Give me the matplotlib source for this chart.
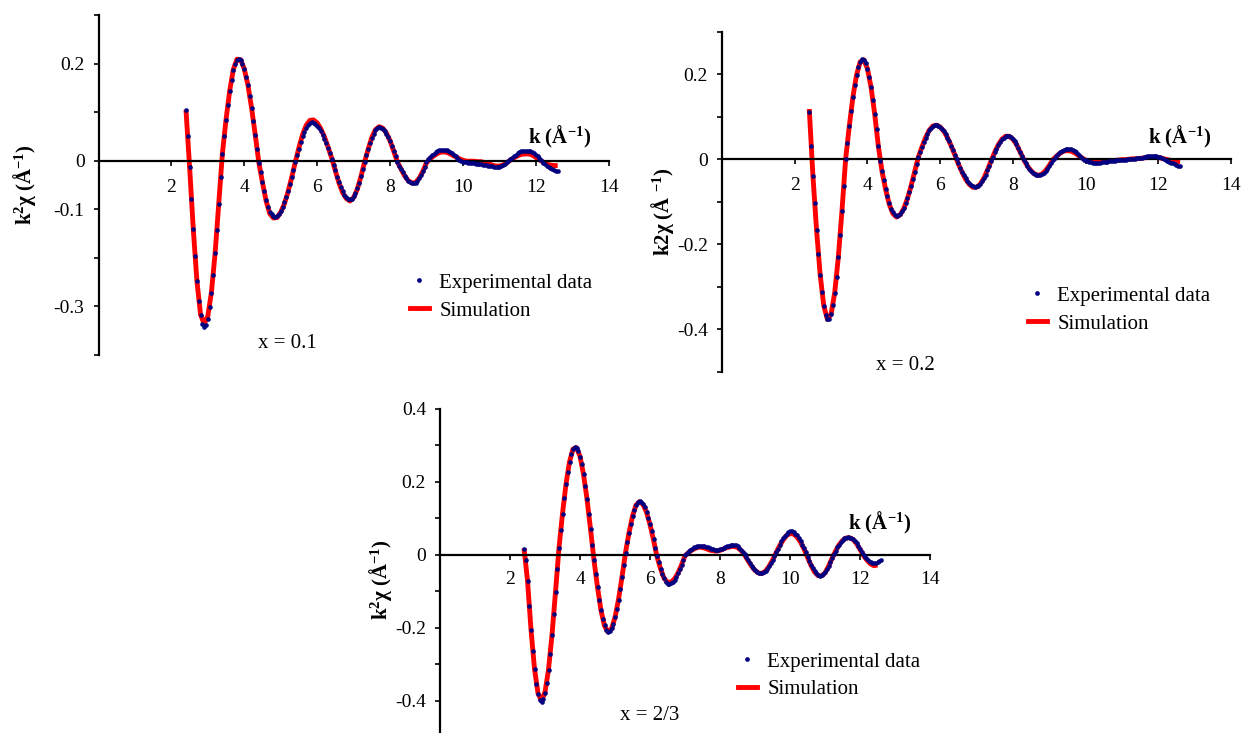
import numpy as np
import matplotlib
matplotlib.use('Agg')
import matplotlib.pyplot as plt
from matplotlib.lines import Line2D

plt.rcParams['font.family'] = ['Liberation Serif', 'DejaVu Serif']
plt.rcParams['mathtext.fontset'] = 'custom'
plt.rcParams['mathtext.rm'] = 'Liberation Serif'
plt.rcParams['mathtext.bf'] = 'Liberation Serif:bold'
plt.rcParams['mathtext.it'] = 'Liberation Serif:italic'
plt.rcParams['axes.unicode_minus'] = False

# k grids (A^-1): measured points every 0.05, simulation every 0.1
k_exp = np.round(np.arange(2.4, 12.601, 0.05), 2)
k_sim = np.round(np.arange(2.4, 12.61, 0.1), 1)

# x = 0.1
exp_01 = [0.105, 0.050, -0.013, -0.078, -0.140, -0.197, -0.247, -0.288, -0.318, -0.337,
          -0.343, -0.338, -0.325, -0.302, -0.272, -0.235, -0.191, -0.142, -0.089, -0.034,
          0.014, 0.050, 0.084, 0.115, 0.143, 0.167, 0.187, 0.200, 0.208, 0.210,
          0.207, 0.200, 0.188, 0.173, 0.155, 0.133, 0.108, 0.082, 0.053, 0.024,
          -0.004, -0.024, -0.044, -0.062, -0.081, -0.095, -0.106, -0.110, -0.114, -0.115,
          -0.113, -0.109, -0.103, -0.095, -0.086, -0.074, -0.062, -0.048, -0.034, -0.019,
          -0.003, 0.011, 0.025, 0.038, 0.050, 0.060, 0.068, 0.074, 0.078, 0.079,
          0.078, 0.076, 0.072, 0.067, 0.061, 0.053, 0.045, 0.036, 0.026, 0.015,
          0.004, -0.008, -0.020, -0.033, -0.044, -0.054, -0.063, -0.070, -0.075, -0.078,
          -0.079, -0.078, -0.073, -0.066, -0.057, -0.046, -0.032, -0.018, -0.003, 0.011,
          0.024, 0.036, 0.047, 0.056, 0.063, 0.067, 0.069, 0.068, 0.066, 0.062,
          0.056, 0.049, 0.040, 0.030, 0.020, 0.009, -0.002, -0.010, -0.017, -0.024,
          -0.031, -0.036, -0.041, -0.044, -0.046, -0.046, -0.045, -0.041, -0.036, -0.029,
          -0.021, -0.012, -0.003, 0.003, 0.007, 0.011, 0.014, 0.017, 0.020, 0.022,
          0.023, 0.023, 0.023, 0.022, 0.020, 0.018, 0.015, 0.012, 0.009, 0.005,
          0.002, -0.001, -0.002, -0.003, -0.003, -0.004, -0.004, -0.005, -0.005, -0.006,
          -0.006, -0.007, -0.007, -0.008, -0.008, -0.009, -0.010, -0.011, -0.011, -0.012,
          -0.012, -0.012, -0.012, -0.011, -0.009, -0.006, -0.003, 0.000, 0.003, 0.006,
          0.010, 0.012, 0.015, 0.017, 0.019, 0.020, 0.021, 0.021, 0.021, 0.020,
          0.018, 0.015, 0.012, 0.009, 0.005, 0.002, -0.004, -0.007, -0.010, -0.013,
          -0.016, -0.018, -0.020, -0.021, -0.022]
sim_01 = [0.105, -0.013, -0.140, -0.247, -0.317, -0.336, -0.320, -0.270, -0.190, -0.088,
          0.015, 0.085, 0.144, 0.188, 0.209, 0.208, 0.189, 0.156, 0.109, 0.054,
          -0.004, -0.045, -0.083, -0.109, -0.118, -0.117, -0.106, -0.089, -0.064, -0.035,
          -0.003, 0.027, 0.054, 0.073, 0.083, 0.084, 0.078, 0.066, 0.049, 0.028,
          0.005, -0.021, -0.046, -0.066, -0.078, -0.083, -0.076, -0.059, -0.033, -0.003,
          0.024, 0.048, 0.064, 0.070, 0.067, 0.057, 0.041, 0.020, -0.002, -0.017,
          -0.031, -0.041, -0.046, -0.045, -0.036, -0.022, -0.004, 0.004, 0.010, 0.015,
          0.018, 0.018, 0.016, 0.012, 0.008, 0.004, 0.001, -0.001, -0.001, -0.001,
          -0.002, -0.002, -0.004, -0.006, -0.009, -0.011, -0.011, -0.009, -0.004, 0.001,
          0.006, 0.010, 0.013, 0.014, 0.014, 0.012, 0.007, 0.002, -0.003, -0.007,
          -0.009, -0.010, -0.010]

# x = 0.2
exp_02 = [0.112, 0.030, -0.039, -0.104, -0.166, -0.222, -0.272, -0.313, -0.345, -0.367,
          -0.377, -0.376, -0.365, -0.344, -0.314, -0.276, -0.230, -0.178, -0.121, -0.062,
          0.000, 0.039, 0.077, 0.113, 0.146, 0.174, 0.198, 0.216, 0.229, 0.235,
          0.234, 0.227, 0.213, 0.194, 0.169, 0.139, 0.106, 0.070, 0.031, -0.005,
          -0.027, -0.049, -0.069, -0.087, -0.103, -0.116, -0.125, -0.131, -0.133, -0.132,
          -0.128, -0.122, -0.114, -0.104, -0.092, -0.078, -0.062, -0.046, -0.029, -0.011,
          0.005, 0.017, 0.029, 0.041, 0.051, 0.060, 0.068, 0.073, 0.077, 0.080,
          0.080, 0.078, 0.076, 0.071, 0.066, 0.059, 0.051, 0.042, 0.032, 0.022,
          0.011, 0.000, -0.010, -0.020, -0.029, -0.038, -0.045, -0.052, -0.057, -0.061,
          -0.064, -0.065, -0.064, -0.062, -0.058, -0.052, -0.044, -0.036, -0.026, -0.015,
          -0.004, 0.006, 0.016, 0.025, 0.034, 0.041, 0.047, 0.051, 0.054, 0.055,
          0.054, 0.052, 0.047, 0.042, 0.035, 0.026, 0.017, 0.008, -0.001, -0.009,
          -0.016, -0.022, -0.027, -0.032, -0.035, -0.037, -0.038, -0.037, -0.035, -0.032,
          -0.027, -0.022, -0.016, -0.009, -0.001, 0.004, 0.008, 0.012, 0.016, 0.019,
          0.022, 0.023, 0.024, 0.024, 0.023, 0.021, 0.019, 0.016, 0.012, 0.008,
          0.004, -0.001, -0.003, -0.005, -0.006, -0.007, -0.008, -0.008, -0.008, -0.008,
          -0.008, -0.007, -0.007, -0.006, -0.006, -0.005, -0.005, -0.004, -0.004, -0.003,
          -0.003, -0.002, -0.002, -0.001, -0.001, 0.000, 0.000, 0.000, 0.001, 0.001,
          0.002, 0.002, 0.003, 0.004, 0.005, 0.006, 0.007, 0.007, 0.008, 0.008,
          0.008, 0.007, 0.006, 0.005, 0.003, 0.001, -0.001, -0.004, -0.006, -0.008,
          -0.010, -0.011, -0.013, -0.015, -0.016]
sim_02 = [0.118, -0.038, -0.166, -0.272, -0.345, -0.377, -0.365, -0.314, -0.230, -0.121,
          0.000, 0.077, 0.146, 0.198, 0.229, 0.234, 0.213, 0.169, 0.106, 0.031,
          -0.028, -0.071, -0.106, -0.128, -0.136, -0.131, -0.116, -0.093, -0.063, -0.029,
          0.005, 0.029, 0.051, 0.068, 0.078, 0.080, 0.076, 0.066, 0.051, 0.032,
          0.011, -0.011, -0.030, -0.047, -0.059, -0.066, -0.066, -0.059, -0.045, -0.026,
          -0.004, 0.016, 0.034, 0.047, 0.054, 0.054, 0.047, 0.035, 0.017, -0.001,
          -0.016, -0.027, -0.035, -0.038, -0.035, -0.027, -0.015, -0.001, 0.007, 0.014,
          0.019, 0.020, 0.019, 0.015, 0.009, 0.003, -0.002, -0.004, -0.005, -0.006,
          -0.006, -0.005, -0.004, -0.003, -0.003, -0.002, -0.001, -0.001, 0.000, 0.001,
          0.001, 0.002, 0.003, 0.004, 0.005, 0.005, 0.004, 0.002, 0.000, -0.002,
          -0.004, -0.005, -0.006]

# x = 2/3
exp_23 = [0.016, -0.015, -0.071, -0.141, -0.206, -0.264, -0.314, -0.354, -0.382, -0.399,
          -0.403, -0.396, -0.378, -0.351, -0.315, -0.271, -0.220, -0.163, -0.102, -0.039,
          0.019, 0.067, 0.113, 0.156, 0.194, 0.228, 0.255, 0.276, 0.289, 0.295,
          0.293, 0.284, 0.269, 0.248, 0.221, 0.189, 0.153, 0.113, 0.071, 0.027,
          -0.015, -0.053, -0.089, -0.123, -0.152, -0.176, -0.194, -0.206, -0.211, -0.209,
          -0.202, -0.189, -0.172, -0.149, -0.123, -0.093, -0.061, -0.028, 0.006, 0.034,
          0.060, 0.085, 0.106, 0.123, 0.136, 0.144, 0.147, 0.145, 0.139, 0.130,
          0.118, 0.102, 0.084, 0.064, 0.042, 0.019, -0.004, -0.021, -0.038, -0.053,
          -0.065, -0.074, -0.079, -0.080, -0.078, -0.074, -0.068, -0.060, -0.050, -0.039,
          -0.027, -0.014, 0.000, 0.005, 0.009, 0.013, 0.017, 0.020, 0.022, 0.024,
          0.025, 0.025, 0.024, 0.023, 0.022, 0.020, 0.018, 0.016, 0.015, 0.014,
          0.014, 0.014, 0.015, 0.017, 0.019, 0.021, 0.023, 0.025, 0.026, 0.027,
          0.027, 0.026, 0.023, 0.019, 0.014, 0.008, 0.001, -0.007, -0.015, -0.023,
          -0.030, -0.037, -0.042, -0.046, -0.049, -0.050, -0.050, -0.048, -0.044, -0.038,
          -0.031, -0.023, -0.014, -0.004, 0.007, 0.017, 0.027, 0.037, 0.045, 0.052,
          0.058, 0.062, 0.064, 0.064, 0.062, 0.058, 0.053, 0.046, 0.038, 0.028,
          0.018, 0.007, -0.005, -0.016, -0.027, -0.037, -0.045, -0.051, -0.055, -0.057,
          -0.056, -0.053, -0.048, -0.040, -0.031, -0.021, -0.009, 0.002, 0.011, 0.020,
          0.028, 0.035, 0.040, 0.045, 0.047, 0.048, 0.047, 0.045, 0.042, 0.037,
          0.031, 0.024, 0.016, 0.008, 0.000, -0.006, -0.011, -0.016, -0.020, -0.022,
          -0.023, -0.022, -0.020, -0.018, -0.015]
sim_23 = [0.018, -0.070, -0.205, -0.313, -0.380, -0.401, -0.377, -0.315, -0.220, -0.102,
          0.019, 0.113, 0.194, 0.255, 0.290, 0.294, 0.270, 0.221, 0.153, 0.071,
          -0.015, -0.089, -0.153, -0.195, -0.212, -0.203, -0.172, -0.123, -0.061, 0.006,
          0.060, 0.106, 0.136, 0.146, 0.138, 0.117, 0.083, 0.041, -0.005, -0.038,
          -0.064, -0.076, -0.075, -0.066, -0.050, -0.028, -0.003, 0.006, 0.013, 0.018,
          0.021, 0.020, 0.017, 0.013, 0.011, 0.010, 0.012, 0.016, 0.020, 0.022,
          0.023, 0.020, 0.012, 0.000, -0.016, -0.031, -0.043, -0.050, -0.051, -0.045,
          -0.032, -0.015, 0.005, 0.024, 0.040, 0.053, 0.058, 0.057, 0.049, 0.035,
          0.016, -0.007, -0.029, -0.047, -0.057, -0.058, -0.050, -0.032, -0.010, 0.010,
          0.027, 0.039, 0.046, 0.047, 0.042, 0.031, 0.015, -0.002, -0.015, -0.025,
          -0.030, -0.028]

x_ticks = [2, 4, 6, 8, 10, 12, 14]

W, H = 1241, 733
fig = plt.figure(figsize=(W / 100, H / 100), dpi=100)


def px_axes(left, top, right, bottom):
    # axes box given in pixel coords of the picture (origin top-left)
    return fig.add_axes([left / W, 1 - bottom / H, (right - left) / W, (bottom - top) / H])


def draw_panel(ax, exp, sim, ylim, yticks, ylabels, xpad):
    ax.plot(k_sim[:len(sim)], sim, color='#ff0000', lw=3.5, solid_capstyle='butt', zorder=2)
    ax.plot(k_exp[:len(exp)], exp, ls='none', marker='o', ms=3.3, color='#000080',
            markeredgewidth=0, zorder=3)
    ax.set_xlim(0, 14)
    ax.set_ylim(*ylim)
    ax.set_xticks(x_ticks)
    ax.set_xticklabels([str(t) for t in x_ticks])
    ax.set_yticks(yticks)
    ax.set_yticklabels(ylabels)
    for s in ['top', 'right']:
        ax.spines[s].set_visible(False)
    ax.spines['bottom'].set_position(('data', 0))
    ax.spines['left'].set_linewidth(1.6)
    ax.spines['bottom'].set_linewidth(1.6)
    ax.tick_params(axis='both', direction='out', length=3.5, width=1.2,
                   labelsize=14, color='black')
    ax.tick_params(axis='y', pad=6.5)
    ax.tick_params(axis='x', pad=xpad)
    ax.patch.set_alpha(0)


def add_legend(x, y):
    handles = [Line2D([], [], ls='none', marker='o', ms=3.4, color='#000080', markeredgewidth=0),
               Line2D([], [], color='#ff0000', lw=3.5)]
    fig.legend(handles, ['Experimental data', 'Simulation'], loc='upper left',
               bbox_to_anchor=(x / W, 1 - y / H), frameon=False, fontsize=15,
               handlelength=0.9, handletextpad=0.5, labelspacing=0.4,
               borderpad=0, borderaxespad=0, numpoints=1)


# panel x = 0.1
ax1 = px_axes(98.5, 15, 608.7, 355)
draw_panel(ax1, exp_01, sim_01, (-0.4, 0.3),
           [-0.4, -0.3, -0.2, -0.1, 0, 0.1, 0.2, 0.3],
           ['', '-0.3', '', '-0.1', '0', '', '0.2', ''], 9.5)

# panel x = 0.2
ax2 = px_axes(722, 31.7, 1231, 371.7)
draw_panel(ax2, exp_02, sim_02, (-0.5, 0.3),
           [-0.5, -0.4, -0.3, -0.2, -0.1, 0, 0.1, 0.2, 0.3],
           ['', '-0.4', '', '-0.2', '', '0', '', '0.2', ''], 9.5)

# panel x = 2/3
ax3 = px_axes(440, 409, 930, 737)
draw_panel(ax3, exp_23, sim_23, (-0.5, 0.4),
           [-0.5, -0.4, -0.3, -0.2, -0.1, 0, 0.1, 0.2, 0.3, 0.4],
           ['', '-0.4', '', '-0.2', '', '0', '', '0.2', '', '0.4'], 8)

# axis titles
ylab_sq = r'k$^{\mathbf{2}}$χ (Å$^{\mathbf{-1}}$)'
ylab_2 = r'k2χ (Å $^{\mathbf{-1}}$)'
xlab = r'k (Å$^{\mathbf{-1}}$)'
fig.text(25 / W, 1 - 185 / H, ylab_sq, rotation=90, ha='center', va='center',
         fontsize=15, fontweight='bold')
fig.text(663 / W, 1 - 212 / H, ylab_2, rotation=90, ha='center', va='center',
         fontsize=15, fontweight='bold')
fig.text(380 / W, 1 - 580 / H, ylab_sq, rotation=90, ha='center', va='center',
         fontsize=15, fontweight='bold')
for xc, yc in [(560, 137), (1180, 137), (880, 523)]:
    fig.text(xc / W, 1 - yc / H, xlab, ha='center', va='center',
             fontsize=15, fontweight='bold')

# legends and sample labels
add_legend(410, 273)
add_legend(1028, 286)
add_legend(738, 652)
for xc, yc, s in [(287, 344, 'x = 0.1'), (905, 366, 'x = 0.2'), (650, 716, 'x = 2/3')]:
    fig.text(xc / W, 1 - yc / H, s, ha='center', va='center', fontsize=15)

fig.savefig('out.png', dpi=100)
